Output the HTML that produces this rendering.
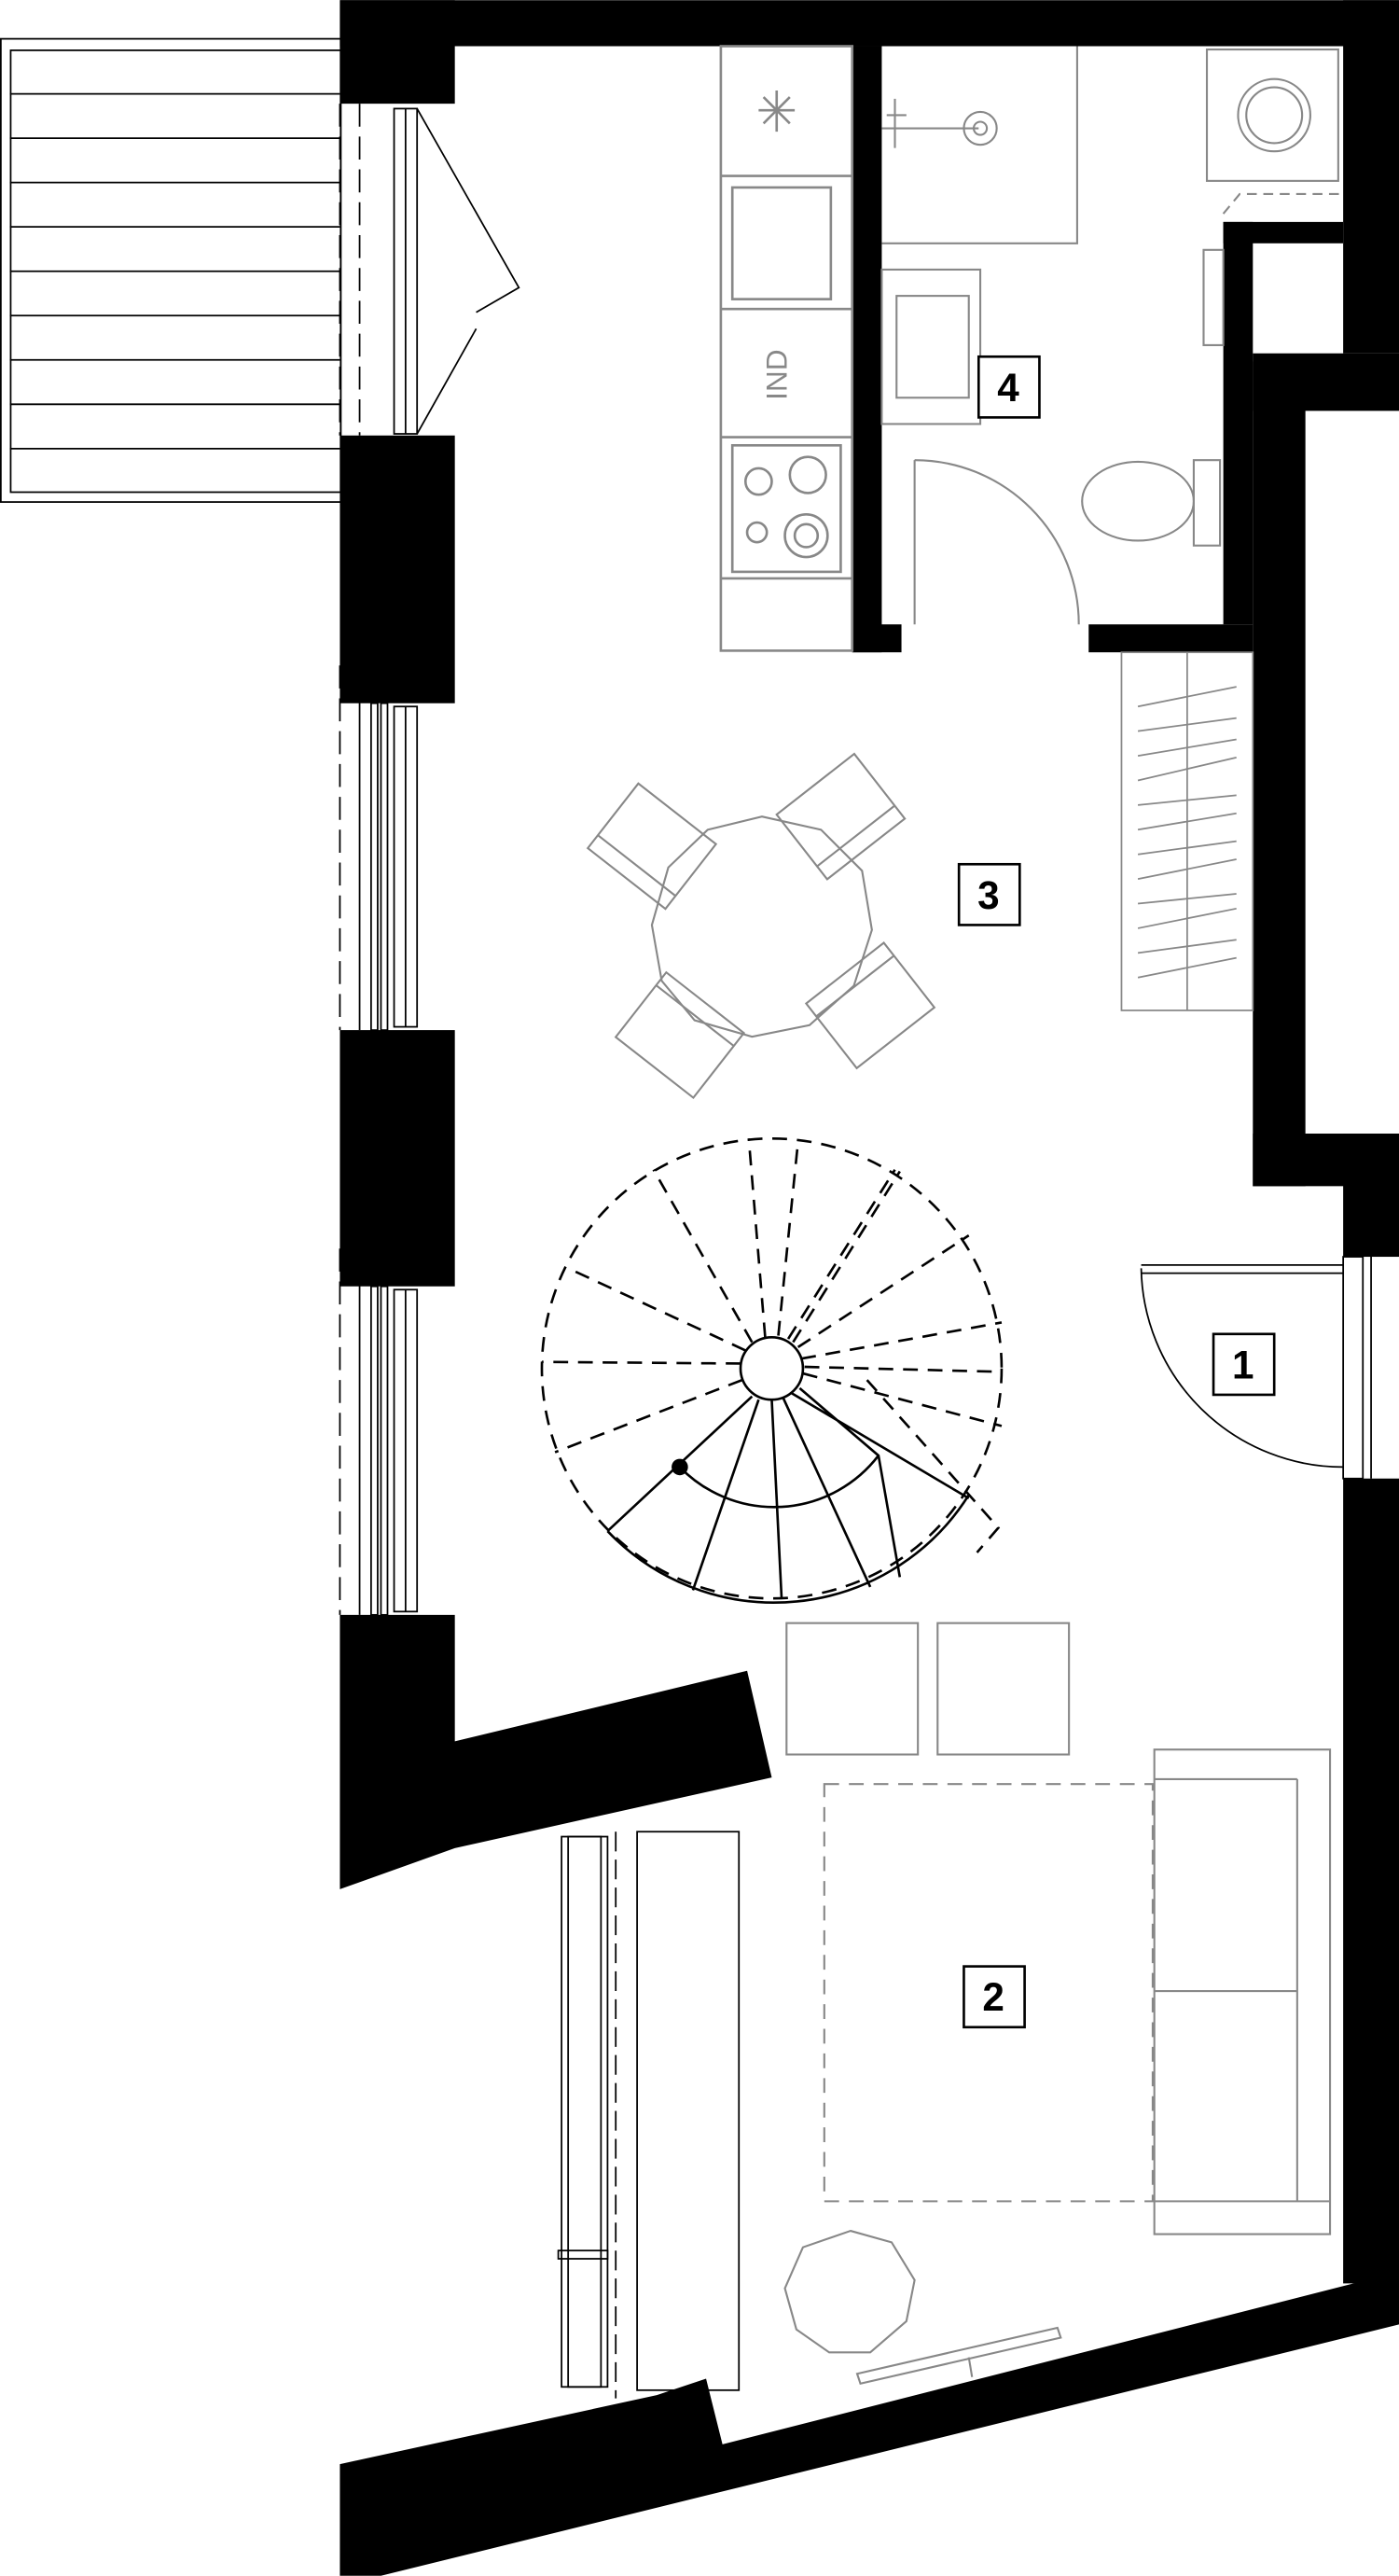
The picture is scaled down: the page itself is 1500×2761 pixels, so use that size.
<!DOCTYPE html>
<html><head><meta charset="utf-8"><style>html,body{margin:0;padding:0;background:#fff}svg{display:block}</style></head>
<body>
<svg width="1500" height="2761" viewBox="0 0 852 1568" xmlns="http://www.w3.org/2000/svg" font-family="Liberation Sans, sans-serif">
<rect width="852" height="1568" fill="#fff"/>
<!-- balcony -->
<rect x="0.5" y="23.5" width="207" height="282" fill="none" stroke="#000" stroke-width="1"/>
<rect x="6.5" y="30.5" width="201" height="269" fill="none" stroke="#000" stroke-width="1"/>
<g stroke="#000" stroke-width="1">
<line x1="6" y1="57" x2="207" y2="57"/><line x1="6" y1="84" x2="207" y2="84"/><line x1="6" y1="111" x2="207" y2="111"/><line x1="6" y1="138" x2="207" y2="138"/><line x1="6" y1="165" x2="207" y2="165"/><line x1="6" y1="192" x2="207" y2="192"/><line x1="6" y1="219" x2="207" y2="219"/><line x1="6" y1="246" x2="207" y2="246"/><line x1="6" y1="273" x2="207" y2="273"/>
</g>
<!-- walls -->
<g fill="#000">
<rect x="207" y="0" width="645" height="28"/>
<rect x="207" y="0" width="70" height="63"/>
<rect x="207" y="265" width="70" height="163"/>
<rect x="207" y="627" width="70" height="156"/>
<polygon points="207,983 277,983 277,1060 455,1017 470,1082 277,1125 207,1150"/>
<rect x="818" y="0" width="34" height="215"/>
<rect x="745" y="135" width="73" height="13"/>
<rect x="745" y="135" width="18" height="245"/>
<rect x="763" y="215" width="89" height="35"/>
<rect x="763" y="220" width="32" height="502"/>
<rect x="763" y="690" width="89" height="32"/>
<rect x="818" y="690" width="34" height="75"/>
<rect x="818" y="900" width="34" height="490"/>
<polygon points="207,1500 400,1458 430,1448 440,1488 840,1386 852,1386 852,1415 232,1568 207,1568"/>
<rect x="519" y="28" width="18" height="369"/>
<rect x="519" y="380" width="30" height="17"/>
<rect x="663" y="380" width="100" height="17"/>
</g>
<!-- windows -->
<g fill="none" stroke="#000" stroke-width="1">
<line x1="207" y1="63" x2="207" y2="265" stroke-dasharray="14,6"/>
<line x1="219" y1="63" x2="219" y2="265" stroke-dasharray="14,6"/>
<rect x="240" y="66" width="14" height="198"/>
<line x1="247" y1="66" x2="247" y2="264"/>
<polyline points="254,66 316,175 290,190" />
<polyline points="254,264 290,200"/>
<line x1="207" y1="405" x2="207" y2="627" stroke-dasharray="14,6"/>
<line x1="219" y1="405" x2="219" y2="627"/>
<rect x="226" y="428" width="4" height="199"/><rect x="232" y="428" width="4" height="199"/>
<rect x="240" y="430" width="14" height="195"/><line x1="247" y1="430" x2="247" y2="625"/>
<line x1="207" y1="760" x2="207" y2="983" stroke-dasharray="14,6"/>
<line x1="219" y1="760" x2="219" y2="983"/>
<rect x="226" y="783" width="4" height="200"/><rect x="232" y="783" width="4" height="200"/>
<rect x="240" y="785" width="14" height="196"/><line x1="247" y1="785" x2="247" y2="981"/>
</g>
<!-- kitchen -->
<g fill="none" stroke="#888" stroke-width="1.5">
<rect x="439" y="28" width="80" height="368"/>
<line x1="439" y1="107" x2="519" y2="107"/><line x1="439" y1="188" x2="519" y2="188"/><line x1="439" y1="266" x2="519" y2="266"/><line x1="439" y1="352" x2="519" y2="352"/>
<rect x="446" y="114" width="60" height="68"/>
<rect x="446" y="271" width="66" height="77"/>
<circle cx="462" cy="293" r="8"/><circle cx="492" cy="289" r="11"/><circle cx="461" cy="324" r="6"/><circle cx="491" cy="326" r="13"/><circle cx="491" cy="326" r="7"/>
<path d="M473,55 v25 M462,67 h22 M465,59 l16,16 M481,59 l-16,16"/>
</g>
<text x="479" y="228" font-size="18" fill="#888" text-anchor="middle" transform="rotate(-90 479 228)">IND</text>
<!-- bathroom -->
<g fill="none" stroke="#888" stroke-width="1.2">
<polyline points="537,148 656,148 656,28"/>
<rect x="537" y="164" width="60" height="94"/><rect x="546" y="180" width="44" height="62"/>
<rect x="735" y="30" width="80" height="80"/><circle cx="776" cy="70" r="22"/><circle cx="776" cy="70" r="17"/>
<polyline points="745,130 755,118 818,118" stroke-dasharray="6,4"/>
<rect x="733" y="152" width="12" height="58"/>
<ellipse cx="693" cy="305" rx="34" ry="24"/><rect x="727" y="280" width="16" height="52"/>
<line x1="537" y1="78" x2="596" y2="78"/><circle cx="597" cy="78" r="10"/><circle cx="597" cy="78" r="4"/>
<path d="M545,60 v30 M540,70 h12"/>
<line x1="557" y1="280" x2="557" y2="380"/><path d="M557,280 A100,100 0 0 1 657,380"/>
</g>
<!-- wardrobe -->
<g fill="none" stroke="#888" stroke-width="1">
<rect x="683" y="397" width="80" height="218"/>
<line x1="723" y1="397" x2="723" y2="615"/>
<path d="M693,430 l60,-12 M693,445 l60,-8 M693,460 l60,-10 M693,475 l60,-14 M693,490 l60,-6 M693,505 l60,-10 M693,520 l60,-8 M693,535 l60,-12 M693,550 l60,-6 M693,565 l60,-12 M693,580 l60,-8 M693,595 l60,-12"/>
</g>
<!-- table & chairs -->
<g fill="none" stroke="#888" stroke-width="1.2">
<polygon points="464,497 500,505 525,530 531,566 520,600 493,624 458,631 423,621 403,597 397,563 407,528 431,505"/>
<g transform="rotate(38 397 515)"><rect x="367" y="490" width="60" height="50"/><line x1="367" y1="530" x2="427" y2="530"/></g>
<g transform="rotate(-38 512 497)"><rect x="482" y="472" width="60" height="50"/><line x1="482" y1="512" x2="542" y2="512"/></g>
<g transform="rotate(-142 414 630)"><rect x="384" y="605" width="60" height="50"/><line x1="384" y1="645" x2="444" y2="645"/></g>
<g transform="rotate(142 530 612)"><rect x="500" y="587" width="60" height="50"/><line x1="500" y1="627" x2="560" y2="627"/></g>
</g>
<!-- spiral stair -->
<g fill="none" stroke="#000" stroke-width="1.5">
<circle cx="470" cy="833" r="140" stroke-dasharray="9,6"/>
<circle cx="470" cy="833" r="19"/>
<path d="M474,813 L486,695 M483,817 L548,713 M488,827 L610,805 M489,836 L610,868 M486,820 L590,752 M490,832 L608,835 M480,815 L545,712 M466,814 L456,693 M458,817 L398,712 M454,822 L346,772 M451,830 L330,829 M452,840 L338,884" stroke-dasharray="9,6"/>
<path d="M370,932 A140,140 0 0 0 590,910" />
<path d="M414,893 A80,80 0 0 0 535,886"/>
<path d="M458,850 L370,932 M462,852 L422,968 M470,852 L476,973 M477,851 L530,966 M482,848 L590,912 M487,845 L535,886 L548,960"/>
<path d="M528,840 L608,930 L595,945" stroke-dasharray="9,6"/>
</g>
<circle cx="414" cy="893" r="5" fill="#000"/>
<!-- entry door -->
<g fill="none" stroke="#000" stroke-width="1">
<rect x="818" y="765" width="12" height="135" fill="#fff"/>
<line x1="835" y1="765" x2="835" y2="900"/>
<line x1="695" y1="770" x2="818" y2="770"/><line x1="695" y1="775" x2="818" y2="775"/>
<path d="M695,772 A123,123 0 0 0 818,893"/>
</g>
<!-- living -->
<g fill="none" stroke="#888" stroke-width="1.2">
<rect x="479" y="988" width="80" height="80"/><rect x="571" y="988" width="80" height="80"/>
<rect x="502" y="1086" width="200" height="254" stroke-dasharray="9,6"/>
<rect x="703" y="1065" width="107" height="295"/><line x1="703" y1="1083" x2="790" y2="1083"/><line x1="790" y1="1083" x2="790" y2="1340"/><line x1="703" y1="1212" x2="790" y2="1212"/><line x1="703" y1="1340" x2="810" y2="1340"/>
<polygon points="518,1358 543,1365 557,1388 552,1413 530,1432 505,1432 485,1418 478,1393 489,1368"/>
<polygon points="522,1445 644,1417 646,1423 524,1451"/><line x1="590" y1="1435" x2="592" y2="1447"/>
</g>
<g fill="none" stroke="#000" stroke-width="1">
<rect x="342" y="1118" width="28" height="335"/><rect x="346" y="1118" width="20" height="335"/>
<line x1="375" y1="1115" x2="375" y2="1460" stroke-dasharray="12,5"/>
<rect x="388" y="1115" width="62" height="340"/>
<rect x="340" y="1370" width="30" height="5"/>
</g>
<!-- labels -->
<g font-size="24" font-weight="bold" text-anchor="middle">
<rect x="739" y="812" width="37" height="37" fill="#fff" stroke="#000" stroke-width="1.5"/><text x="757" y="839">1</text>
<rect x="587" y="1197" width="37" height="37" fill="#fff" stroke="#000" stroke-width="1.5"/><text x="605" y="1224">2</text>
<rect x="584" y="526" width="37" height="37" fill="#fff" stroke="#000" stroke-width="1.5"/><text x="602" y="553">3</text>
<rect x="596" y="217" width="37" height="37" fill="#fff" stroke="#000" stroke-width="1.5"/><text x="614" y="244">4</text>
</g>
</svg>
</body></html>
